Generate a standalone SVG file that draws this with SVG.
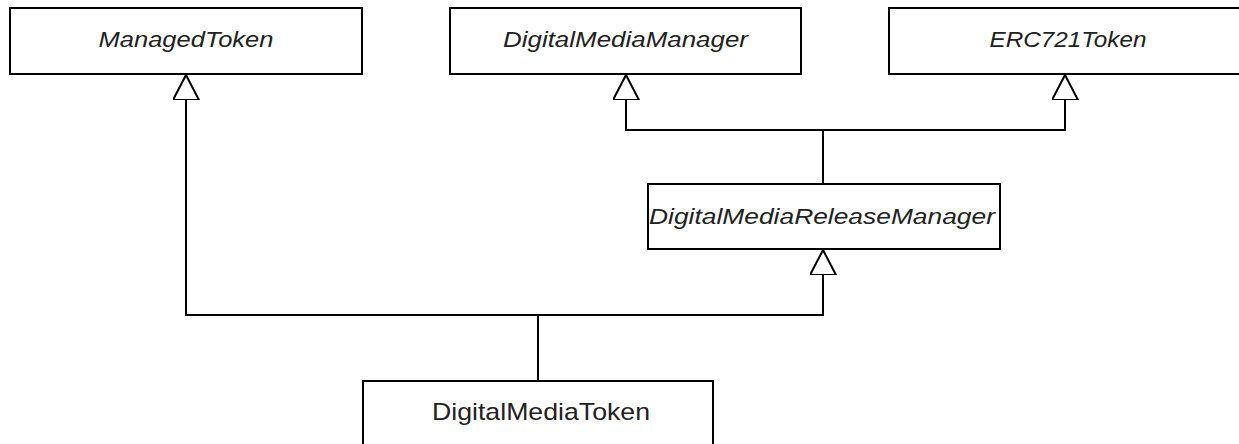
<svg xmlns="http://www.w3.org/2000/svg" width="1239" height="444" viewBox="0 0 1239 444">
<style>
.box{fill:#fff;stroke:#000;stroke-width:2}
.lbl{font-family:"Liberation Sans",Arial,sans-serif;font-size:22px;fill:#222;text-anchor:middle}
.it{font-style:italic}
.edge{fill:none;stroke:#000;stroke-width:2}
</style>
<defs>
<marker id="gen" markerUnits="userSpaceOnUse" markerWidth="30" markerHeight="30" viewBox="0 0 30 30" refX="25" refY="13" orient="auto">
<path d="M25,13 L0,0 L0,26 Z" fill="#fff" stroke="#000" stroke-width="2"/>
</marker>
</defs>
<rect width="1239" height="444" fill="#fff"/>
<g id="connectors">
<path class="edge" d="M538,381 V315 H186 V75" marker-end="url(#gen)"/>
<path class="edge" d="M538,315 H823 V250" marker-end="url(#gen)"/>
<path class="edge" d="M823,184 V130 H626 V75" marker-end="url(#gen)"/>
<path class="edge" d="M823,130 H1065 V75" marker-end="url(#gen)"/>
</g>
<g id="ManagedToken">
<rect class="box" x="10" y="8" width="352" height="66"/>
<text class="lbl it" x="186" y="47" textLength="175" lengthAdjust="spacingAndGlyphs">ManagedToken</text>
</g>
<g id="DigitalMediaManager">
<rect class="box" x="450" y="8" width="351" height="66"/>
<text class="lbl it" x="625.5" y="47" textLength="245" lengthAdjust="spacingAndGlyphs">DigitalMediaManager</text>
</g>
<g id="ERC721Token">
<rect class="box" x="889" y="8" width="360" height="66"/>
<text class="lbl it" x="1068" y="47" textLength="157" lengthAdjust="spacingAndGlyphs">ERC721Token</text>
</g>
<g id="DigitalMediaReleaseManager">
<rect class="box" x="648" y="184" width="352" height="65"/>
<text class="lbl it" x="822" y="224" textLength="346" lengthAdjust="spacingAndGlyphs">DigitalMediaReleaseManager</text>
</g>
<g id="DigitalMediaToken">
<rect class="box" x="363" y="381" width="350" height="80"/>
<text class="lbl" x="541" y="420" style="font-size:24px" textLength="218" lengthAdjust="spacingAndGlyphs">DigitalMediaToken</text>
</g>
</svg>
